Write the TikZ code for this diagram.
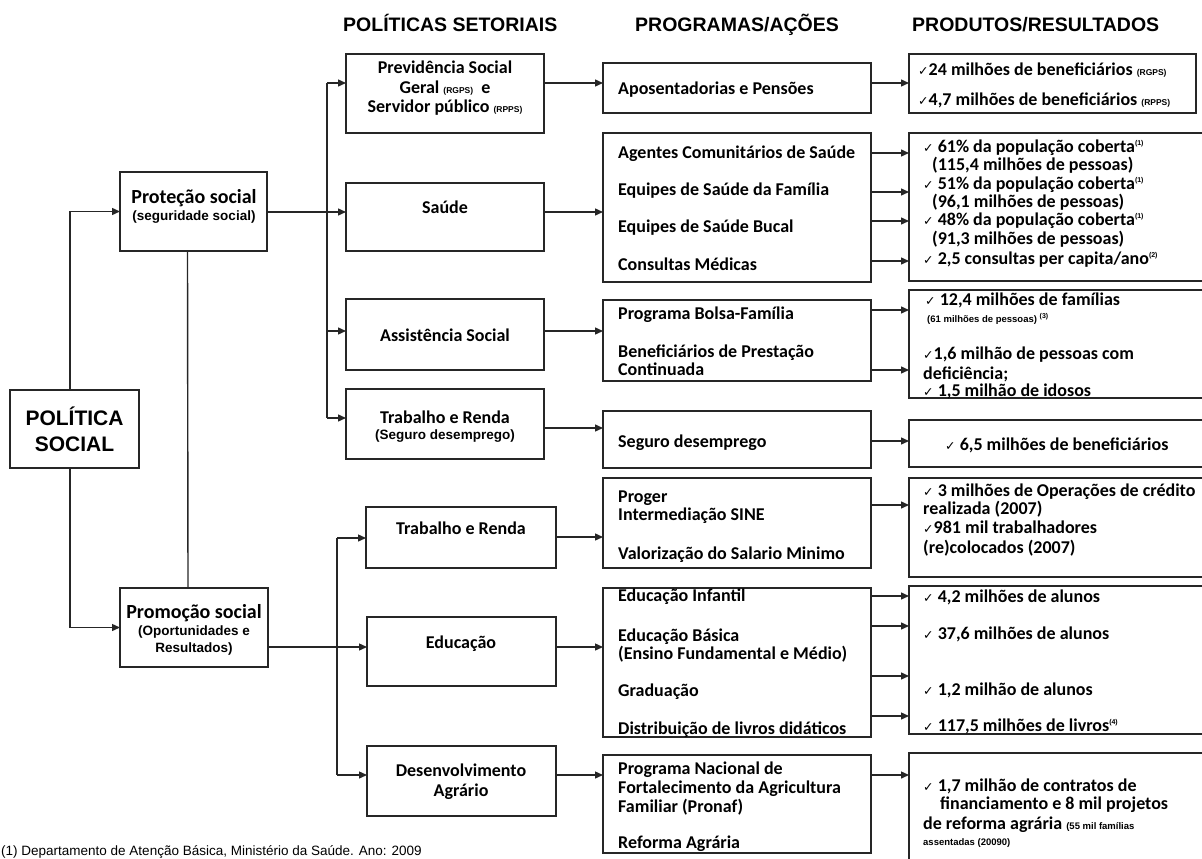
\documentclass[tikz,border=0pt]{standalone}
\usepackage{fontspec}
\setmainfont{Carlito}
\newfontfamily\ars{Liberation Sans}
\newfontfamily\djv{DejaVu Sans}
\usetikzlibrary{arrows.meta}
\newcommand\prog{\bfseries\fontsize{18}{21}\selectfont}
\newcommand\ck{{\djv\mdseries\fontsize{12.5}{14}\selectfont ✓}}
\newcommand\sml[1]{{\ars\bfseries\fontsize{8.5}{10}\selectfont #1}}
\newcommand\smlb{\ars\bfseries\fontsize{9.5}{11}\selectfont}
\newcommand\mysup[1]{\raisebox{0.75ex}{\ars\bfseries\fontsize{7}{8}\selectfont(#1)}}
\newcommand\mybox[5]{\node[box,minimum width={#4-#2},minimum height={#5-#3}] (#1) at ({(#2+#4)/2},{(#3+#5)/2}) {};}
\newcommand\ltext[4]{\node[txt] (#1) at (#2,#3) {#4};}
\newcommand\ctext[4]{\node[ctr] (#1) at (#2,#3) {#4};}
\begin{document}
\begin{tikzpicture}[x=1pt,y=-1pt,
 box/.style={draw=black!85,line width=1.5pt,inner sep=0pt,outer sep=0pt},
 conn/.style={draw=black!85,line width=1.4pt},
 arr/.style={conn,-{Triangle[length=8pt,width=7pt]}},
 txt/.style={anchor=base west,inner sep=0pt,font=\prog},
 ctr/.style={anchor=base,inner sep=0pt,font=\prog},
 hdr/.style={anchor=base west,inner sep=0pt,font=\ars\bfseries\fontsize{19.5}{22}\selectfont},
 paren/.style={anchor=base,inner sep=0pt,font=\ars\bfseries\fontsize{13.5}{15}\selectfont},
 lft/.style={anchor=base,inner sep=0pt,font=\bfseries\fontsize{20}{23}\selectfont},
 big/.style={anchor=base,inner sep=0pt,font=\ars\bfseries\fontsize{21}{24}\selectfont},
 foot/.style={anchor=base west,inner sep=0pt,font=\ars\fontsize{13.5}{15}\selectfont}]
\useasboundingbox (0,0) rectangle (1202,859);
\clip (0,0) rectangle (1202,859);

% headers
\node[hdr] (h1) at (343,32) {POLÍTICAS SETORIAIS};
\node[hdr] (h2) at (635,32) {PROGRAMAS/AÇÕES};
\node[hdr] (h3) at (912,32) {PRODUTOS/RESULTADOS};

% boxes
\mybox{ps}{10}{390}{139}{468}
\mybox{prot}{120}{172}{267}{251}
\mybox{prom}{120}{588}{268}{667}
\mybox{prev}{346}{54}{544}{133}
\mybox{saude}{346}{183}{544}{251}
\mybox{assist}{346}{299}{544}{370}
\mybox{trab1}{346}{389}{544}{459}
\mybox{trab2}{366}{507}{556}{568}
\mybox{educ}{367}{617}{556}{686}
\mybox{desenv}{367}{746}{556}{816}
\mybox{papos}{603}{63}{871}{113}
\mybox{psaude}{603}{133}{871}{282}
\mybox{passist}{603}{300}{871}{381}
\mybox{pseguro}{603}{411}{871}{468}
\mybox{pproger}{603}{478}{871}{568}
\mybox{peduc}{603}{588}{871}{737}
\mybox{ppronaf}{603}{755}{871}{853}
\mybox{rprev}{909}{54}{1196}{113}
\mybox{rsaude}{909}{133}{1215}{281}
\mybox{rassist}{909}{290}{1215}{398}
\mybox{rseguro}{909}{420}{1215}{467}
\mybox{rproger}{909}{478}{1215}{577}
\mybox{reduc}{909}{586}{1215}{734}
\mybox{ragr}{909}{753}{1215}{875}

% left column texts
\node[big] (psa) at (74.5,425) {POLÍTICA};
\node[big] (psb) at (74.5,451) {SOCIAL};
\node[lft] (prota) at (194,203) {Proteção social};
\node[paren] (protb) at (194,220) {(seguridade social)};
\node[lft] (proma) at (194,618) {Promoção social};
\node[paren] (promb) at (194,635) {(Oportunidades e};
\node[paren] (promc) at (194,652) {Resultados)};

% sector texts
\ctext{preva}{445}{74}{Previdência Social}
\ctext{prevb}{445}{93}{Geral \sml{(RGPS)}\ \ e}
\ctext{prevc}{445}{112}{Servidor público \sml{(RPPS)}}
\ctext{saudea}{445}{213}{Saúde}
\ctext{assista}{445}{341}{Assistência Social}
\ctext{trab1a}{445}{423}{Trabalho e Renda}
\node[paren] (trab1b) at (445,439) {(Seguro desemprego)};
\ctext{trab2a}{461}{534}{Trabalho e Renda}
\ctext{educa}{461}{648}{Educação}
\ctext{desenva}{461}{776}{Desenvolvimento}
\ctext{desenvb}{461}{796}{Agrário}

% program texts
\ltext{pa1}{618}{94}{Aposentadorias e Pensões}
\ltext{ps1}{618}{158}{Agentes Comunitários de Saúde}
\ltext{ps2}{618}{195}{Equipes de Saúde da Família}
\ltext{ps3}{618}{232}{Equipes de Saúde Bucal}
\ltext{ps4}{618}{270}{Consultas Médicas}
\ltext{pas1}{618}{319}{Programa Bolsa-Família}
\ltext{pas2}{618}{357}{Beneficiários de Prestação}
\ltext{pas3}{618}{375}{Continuada}
\ltext{pse1}{618}{447}{Seguro desemprego}
\ltext{ppr1}{618}{502}{Proger}
\ltext{ppr2}{618}{520}{Intermediação SINE}
\ltext{ppr3}{618}{559}{Valorização do Salario Minimo}
\ltext{pe1}{618}{601}{Educação Infantil}
\ltext{pe2}{618}{641}{Educação Básica}
\ltext{pe3}{618}{659}{(Ensino Fundamental e Médio)}
\ltext{pe4}{618}{696}{Graduação}
\ltext{pe5}{618}{734}{Distribuição de livros didáticos}
\ltext{pn1}{618}{774}{Programa Nacional de}
\ltext{pn2}{618}{793}{Fortalecimento da Agricultura}
\ltext{pn3}{618}{812}{Familiar (Pronaf)}
\ltext{pn4}{618}{848}{Reforma Agrária}

% result texts
\ltext{r1}{918}{75}{\ck24 milhões de beneficiários \sml{(RGPS)}}
\ltext{r2}{918}{106}{\ck4,7 milhões de beneficiários \sml{(RPPS)}}
\ltext{rs1}{923}{152}{\ck\ 61\% da população coberta\mysup{1}}
\ltext{rs2}{932}{170}{(115,4 milhões de pessoas)}
\ltext{rs3}{923}{189}{\ck\ 51\% da população coberta\mysup{1}}
\ltext{rs4}{932}{207}{(96,1 milhões de pessoas)}
\ltext{rs5}{923}{225}{\ck\ 48\% da população coberta\mysup{1}}
\ltext{rs6}{932}{244}{(91,3 milhões de pessoas)}
\ltext{rs7}{923}{264}{\ck\ 2,5 consultas per capita/ano\mysup{2}}
\ltext{ra1}{925}{305}{\ck\ 12,4 milhões de famílias}
\node[txt,font=\smlb] (ra2) at (927,322) {(61 milhões de pessoas) \mysup{3}};
\ltext{ra3}{923}{359}{\ck1,6 milhão de pessoas com}
\ltext{ra4}{923}{379}{deficiência;}
\ltext{ra5}{923}{396}{\ck\ 1,5 milhão de idosos}
\ltext{rse1}{945}{450}{\ck\ 6,5 milhões de beneficiários}
\ltext{rp1}{923}{496}{\ck\ 3 milhões de Operações de crédito}
\ltext{rp2}{923}{514}{realizada (2007)}
\ltext{rp3}{923}{533}{\ck981 mil trabalhadores}
\ltext{rp4}{923}{553}{(re)colocados (2007)}
\ltext{re1}{923}{602}{\ck\ 4,2 milhões de alunos}
\ltext{re2}{923}{639}{\ck\ 37,6 milhões de alunos}
\ltext{re3}{923}{695}{\ck\ 1,2 milhão de alunos}
\ltext{re4}{923}{731}{\ck\ 117,5 milhões de livros\mysup{4}}
\ltext{rg1}{923}{791}{\ck\ 1,7 milhão de contratos de}
\ltext{rg2}{940}{809}{financiamento e 8 mil projetos}
\ltext{rg3}{923}{829}{de reforma agrária {\smlb(55 mil famílias}}
\node[txt,font=\smlb] (rg4) at (923,845) {assentadas (20090)};

% footnote
\node[foot] (fn) at (1,855) {(1) Departamento de Atenção Básica, Ministério da Saúde. Ano: 2009};

% level coordinates
\coordinate (h83) at (0,83);
\coordinate (h153) at (0,153);
\coordinate (h192) at (0,192);
\coordinate (h212) at (0,212);
\coordinate (h221) at (0,221);
\coordinate (h261) at (0,261);
\coordinate (h310) at (0,310);
\coordinate (h331) at (0,331);
\coordinate (h370) at (0,370);
\coordinate (h428) at (0,428);
\coordinate (h441) at (0,441);
\coordinate (h505) at (0,505);
\coordinate (h537) at (0,537);
\coordinate (h596) at (0,596);
\coordinate (h626) at (0,626);
\coordinate (h647) at (0,647);
\coordinate (h676) at (0,676);
\coordinate (h716) at (0,716);
\coordinate (h775) at (0,775);
\coordinate (bus1top) at (327,83);
\coordinate (bus1bot) at (327,418);
\coordinate (bus2top) at (337,538);
\coordinate (bus2bot) at (337,775);

% left connectors
\draw[arr] ([xshift=-4.5pt]ps.north) |- (prot.west);
\draw[arr] ([xshift=-4.5pt]ps.south) |- (prom.west);
\draw[conn] ([xshift=-6pt]prot.south) -- ([xshift=-6pt]prom.north);

% protection bus
\draw[conn] (bus1top) -- (bus1bot);
\draw[arr] (bus1top) -- (prev.west |- bus1top);
\draw[arr] (prot.east |- h212) -- (saude.west |- h212);
\draw[arr] (bus1top |- h331) -- (assist.west |- h331);
\draw[arr] (bus1bot) -- (trab1.west |- bus1bot);

% promotion bus
\draw[conn] (bus2top) -- (bus2bot);
\draw[arr] (bus2top) -- (trab2.west |- bus2top);
\draw[arr] (prom.east |- h647) -- (educ.west |- h647);
\draw[arr] (bus2bot) -- (desenv.west |- bus2bot);

% sectors to programs
\draw[arr] (prev.east |- h83) -- (papos.west |- h83);
\draw[arr] (saude.east |- h212) -- (psaude.west |- h212);
\draw[arr] (assist.east |- h331) -- (passist.west |- h331);
\draw[arr] (trab1.east |- h428) -- (pseguro.west |- h428);
\draw[arr] (trab2.east |- h537) -- (pproger.west |- h537);
\draw[arr] (educ.east |- h647) -- (peduc.west |- h647);
\draw[arr] (desenv.east |- h775) -- (ppronaf.west |- h775);

% programs to results
\draw[arr] (papos.east |- h83) -- (rprev.west |- h83);
\draw[arr] (psaude.east |- h153) -- (rsaude.west |- h153);
\draw[arr] (psaude.east |- h192) -- (rsaude.west |- h192);
\draw[arr] (psaude.east |- h221) -- (rsaude.west |- h221);
\draw[arr] (psaude.east |- h261) -- (rsaude.west |- h261);
\draw[arr] (passist.east |- h310) -- (rassist.west |- h310);
\draw[arr] (passist.east |- h370) -- (rassist.west |- h370);
\draw[arr] (pseguro.east |- h441) -- (rseguro.west |- h441);
\draw[arr] (pproger.east |- h505) -- (rproger.west |- h505);
\draw[arr] (peduc.east |- h596) -- (reduc.west |- h596);
\draw[arr] (peduc.east |- h626) -- (reduc.west |- h626);
\draw[arr] (peduc.east |- h676) -- (reduc.west |- h676);
\draw[arr] (peduc.east |- h716) -- (reduc.west |- h716);
\draw[arr] (ppronaf.east |- h775) -- (ragr.west |- h775);
\end{tikzpicture}
\end{document}
